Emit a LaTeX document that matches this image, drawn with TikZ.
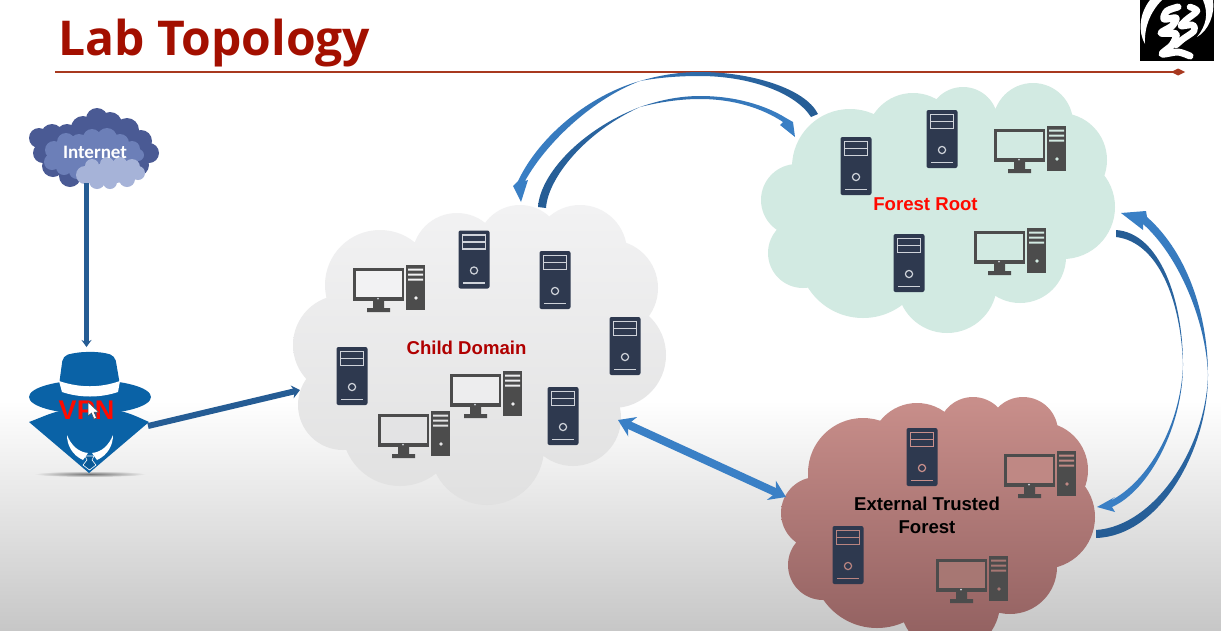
\documentclass[tikz,border=0pt]{standalone}
\usepackage{fontspec}
\setmainfont{Liberation Sans}
\newfontfamily\titlefont{Open Sans}
\newfontfamily\inetfont{Carlito}
\usepackage{xcolor}
\usetikzlibrary{arrows.meta}
\definecolor{navy}{HTML}{2E394F}
\definecolor{pale}{HTML}{CFD3DA}
\definecolor{pcgray}{HTML}{4C4C4C}
\definecolor{titlered}{HTML}{A30F00}
\definecolor{rulered}{HTML}{A8391F}
\definecolor{arrowdark}{HTML}{255C94}
\definecolor{arrowlight}{HTML}{3A80C6}
\definecolor{hatblue}{HTML}{0A62A6}
\definecolor{mint}{HTML}{D2EAE2}
\definecolor{smoke}{HTML}{F2F2F3}
\definecolor{brickhi}{HTML}{C98F8B}
\definecolor{bricklo}{HTML}{8F5E5E}
\definecolor{inetdark}{HTML}{4A5A94}
\definecolor{inetmid}{HTML}{6C7FB8}
\definecolor{inetlite}{HTML}{A6B3D8}
\tikzset{%
  lbl/.style = {font=\bfseries\fontsize{18.6}{21}\selectfont,align=center},
  band/.style = {draw=arrowdark,line width=5pt},
  bandtip/.style = {-{Stealth[length=7pt,width=10pt]}},
  pics/server/.style = {code={
    \fill[navy,rounded corners=2pt] (-15.5,-29) rectangle (15.5,29);
    \draw[#1,line width=1.2pt] (-11.5,-24.5) rectangle (11.5,-10.5);
    \draw[#1,line width=1.2pt] (-11.5,-17.5) -- (11.5,-17.5);
    \draw[#1,line width=1.2pt] (0,11) circle (3.6);
    \draw[#1,line width=1.2pt] (-11,23.5) -- (11,23.5);
  }},
  pics/server/.default = pale,
  pics/desktop/.style = {code={
    \fill[pcgray] (-36,-20) rectangle (15,13);
    \fill[#1] (-33,-17) rectangle (12.5,9);
    \fill[pcgray] (-16,13) rectangle (-5,20) (-22,20) rectangle (1,24);
    \fill[pale] (-11,10.7) circle (1);
    \fill[pcgray] (17,-23) rectangle (36,22);
    \fill[#1] (19,-19.5) rectangle (34,-17.5) (19,-14.5) rectangle (34,-12.5) (19,-9.5) rectangle (34,-7.5);
    \fill[#1] (27,10) circle (1.8);
  }}
}
\begin{document}
\begin{tikzpicture}[x=1pt,y=-1pt]
\useasboundingbox (0,0) rectangle (1221,630);
% page and heading
\fill[white] (0,0) rectangle (1221,630);
\shade[top color=white,bottom color=black!22] (0,400) rectangle (1221,630);
\node[anchor=west,inner sep=0pt,text=titlered,font=\titlefont\bfseries\fontsize{48}{60}\selectfont] (title) at (58,43) {Lab Topology};
\coordinate (rulestart) at (55,72);
\coordinate (ruleend) at (1178,72);
\draw[rulered,line width=1.6pt] (rulestart) -- (ruleend);
\fill[rulered] (1171,72) -- (1178,68.5) -- (1185,72) -- (1178,75.5) -- cycle;
% logo
\fill[black] (1140,0) rectangle (1214,61);
\fill[white] (1150,0) .. controls (1139,14) and (1138,32) .. (1145,44) .. controls (1144,28) and (1150,12) .. (1162,0) -- cycle;
\fill[white] (1203,0) .. controls (1209,14) and (1206,26) .. (1197,37) .. controls (1209,30) and (1215,14) .. (1213,0) -- cycle;
\draw[white,line width=7pt,line cap=round,line join=round] plot[smooth] coordinates {(1178,7) (1167,11) (1164,19) (1176,18) (1172,26) (1161,33) (1176,34) (1172,45) (1162,54) (1178,52) (1190,56)};
\draw[white,line width=6.5pt,line cap=round,line join=round] plot[smooth] coordinates {(1190,7) (1197,11) (1186,20) (1181,26) (1193,25) (1194,31) (1183,39) (1176,45)};
% clouds
\path[top color=smoke,middle color=smoke,bottom color=black!12]
  (380,285) circle (55) (457,258) circle (45) (520,248) circle (43) (580,252) circle (47)
  (610,288) circle (48) (613,355) circle (53) (573,418) circle (48) (487,448) circle (57)
  (400,428) circle (58) (343,405) circle (45) (343,345) circle (50) (480,340) circle (110);
\path[fill=mint]
  (850,167) circle (58) (913,140) circle (47) (963,122) circle (35) (1033,123) circle (40)
  (1060,160) circle (47) (1063,207) circle (52) (1020,257) circle (46) (947,283) circle (50)
  (863,253) circle (65) (803,253) circle (35) (797,200) circle (36) (940,200) circle (90);
\path[top color=brickhi,bottom color=bricklo]
  (863,473) circle (55) (917,450) circle (47) (973,432) circle (35) (1023,432) circle (35)
  (1040,470) circle (48) (1043,517) circle (52) (1010,567) circle (47) (950,603) circle (50)
  (877,563) circle (65) (823,565) circle (35) (817,513) circle (36) (935,510) circle (85);
% machines in the child domain
\pic (srvA) at (474,259.5) {server};
\pic (srvB) at (555,280) {server};
\pic (srvC) at (625,346) {server};
\pic (srvD) at (563,416) {server};
\pic (srvE) at (352,376) {server};
\pic (pcA) at (389,288) {desktop=smoke};
\pic (pcB) at (486,394) {desktop={smoke!98!black}};
\pic (pcC) at (414,434) {desktop={smoke!94!black}};
% machines in the forest root
\pic (srvF) at (856,166) {server};
\pic (srvG) at (942,139) {server};
\pic (srvH) at (909,263) {server};
\pic (pcD) at (1030,149) {desktop=mint};
\pic (pcE) at (1010,251) {desktop=mint};
% machines in the external forest
\pic (srvI) at (922,457) {server=brickhi};
\pic (srvJ) at (848,555) {server={black!8!brickhi}};
\pic (pcF) at (1040,474) {desktop={black!5!brickhi}};
\pic (pcG) at (972,579) {desktop={black!17!brickhi}};
\node[lbl,text=black!8!red!75!black] (child) at (466.5,348) {Child Domain};
\node[lbl,text=red!92!orange] (root) at (925.5,204) {Forest Root};
\node[lbl,text=black] (ext) at (927,515) {External Trusted\\[2pt]Forest};
% internet cloud
\fill[inetdark] (39,138) circle (10) (52,135) circle (11) (67,135) circle (11) (83,128) circle (12)
  (97,119) circle (11) (110,124) circle (12) (127,130) circle (12) (141,141) circle (11) (149,153) circle (10)
  (138,165) circle (11) (126,166) circle (11) (100,175) circle (10) (70,176) circle (11) (53,166) circle (11)
  (43,153) circle (10) (92,150) ellipse (50 and 27);
\fill[inetmid] (54,150) circle (9) (52,162) circle (8) (66,142) circle (9) (79,143) circle (9)
  (92,138) circle (9) (107,138) circle (10) (120,143) circle (9) (132,149) circle (8) (138,155) circle (6)
  (64,167) circle (8) (77,171) circle (8) (95,155) ellipse (40 and 18);
\fill[inetlite] (85,175) circle (9) (92,166) circle (7) (107,164) circle (7) (120,164) circle (7)
  (132,167) circle (8) (138,173) circle (7) (127,179) circle (8) (110,182) circle (7) (97,181) circle (8)
  (112,173) ellipse (27 and 10);
\node[text=white,inner sep=0pt,font=\inetfont\bfseries\fontsize{19}{22}\selectfont] (internet) at (95,152) {Internet};
% hat figure
\shade[inner color=black!55,outer color=black!7] (90,474) ellipse (56 and 3);
\fill[hatblue] (29,422) .. controls (40,418) and (50,413) .. (60,411) -- (120,411) .. controls (130,413) and (140,418) .. (149,422) -- (89,473) -- cycle;
\fill[white] (67,435) .. controls (67,445) and (72,455) .. (83,460) -- (88,453) .. controls (78,452) and (71,445) .. (67,435) -- cycle;
\fill[white] (113,435) .. controls (113,445) and (108,455) .. (97,460) -- (92,453) .. controls (102,452) and (109,445) .. (113,435) -- cycle;
\fill[black!10!hatblue,draw=white,line width=.6pt] (85,456) -- (94,456) -- (92,460) -- (96,465) -- (89.5,470) -- (83,465) -- (87,460) -- cycle;
\fill[hatblue] (90,397) ellipse (61 and 17);
\fill[hatblue,rounded corners=5pt] (59,385) -- (63,356) .. controls (80,351) and (100,351) .. (115,356) -- (120,385) -- cycle;
\fill[white] (59,381) .. controls (80,388) and (100,388) .. (120,381) -- (118,392) .. controls (100,398) and (80,398) .. (62,392) -- cycle;
\node[text=red!92!orange,inner sep=0pt,font=\bfseries\fontsize{27}{30}\selectfont] (vpn) at (86.5,410) {VPN};
\fill[white,draw=black!70,line width=.5pt] (88,402) -- (88,416) -- (91.5,413) -- (94,419) -- (96.5,418) -- (94,412) -- (98.5,412) -- cycle;
% links between the places
\coordinate (inetout) at (86.5,183);
\coordinate (vpnin) at (86.5,347);
\coordinate (vpnout) at (148,426);
\coordinate (childin) at (300,390);
\coordinate (childlink) at (618,420);
\coordinate (extlink) at (786,497);
\draw[band,bandtip] (inetout) -- (vpnin);
\draw[band,line width=6pt,-{Stealth[length=8pt,width=13pt]}] (vpnout) -- (childin);
\draw[draw=arrowlight,line width=8pt,{Stealth[length=16pt,width=21pt]}-{Stealth[length=16pt,width=21pt]}] (childlink) -- (extlink);
\coordinate (tipA) at (521,202);
\coordinate (tipB) at (795,137);
\coordinate (tipC) at (1121,213);
\coordinate (tipD) at (1097,507);
\path[left color=arrowlight,right color=arrowdark] (818,114) .. controls (805,88) and (750,72) .. (700,72) .. controls (680,72) and (660,75) .. (640,81) .. controls (590,95) and (540,135) .. (518,181) -- (513,186) -- (tipA) -- (528,180) -- (525,181) .. controls (548,140) and (595,98) .. (640,81) .. controls (662,77) and (682,76) .. (700,76) .. controls (748,76) and (795,92) .. (811,117) -- cycle;
\path[left color=arrowdark,right color=arrowlight] (538,207) .. controls (540,175) and (580,130) .. (640,107) .. controls (660,100) and (680,96) .. (700,96) .. controls (735,96) and (765,105) .. (786,118) -- (793,122) -- (tipB) -- (780,125) -- (783,122) .. controls (762,108) and (733,99) .. (700,99) .. controls (680,99) and (660,102) .. (640,107) .. controls (585,132) and (548,178) .. (546,208) -- cycle;
\path[top color=arrowlight,bottom color=arrowdark] (1096,538) .. controls (1160,536) and (1208,450) .. (1208,375) .. controls (1208,320) and (1190,255) .. (1147,217) -- (1146,211) -- (tipC) -- (1143,230) -- (1143,224) .. controls (1178,255) and (1206,320) .. (1208,375) .. controls (1206,447) and (1155,526) .. (1096,530) -- cycle;
\path[top color=arrowdark,bottom color=arrowlight] (1116,230) .. controls (1160,233) and (1183,300) .. (1183,365) .. controls (1183,425) and (1150,490) .. (1112,507) -- (1115,512) -- (tipD) -- (1115,497) -- (1110,501) .. controls (1148,482) and (1181,425) .. (1183,365) .. controls (1181,300) and (1158,242) .. (1116,237) -- cycle;
\end{tikzpicture}
\end{document}
